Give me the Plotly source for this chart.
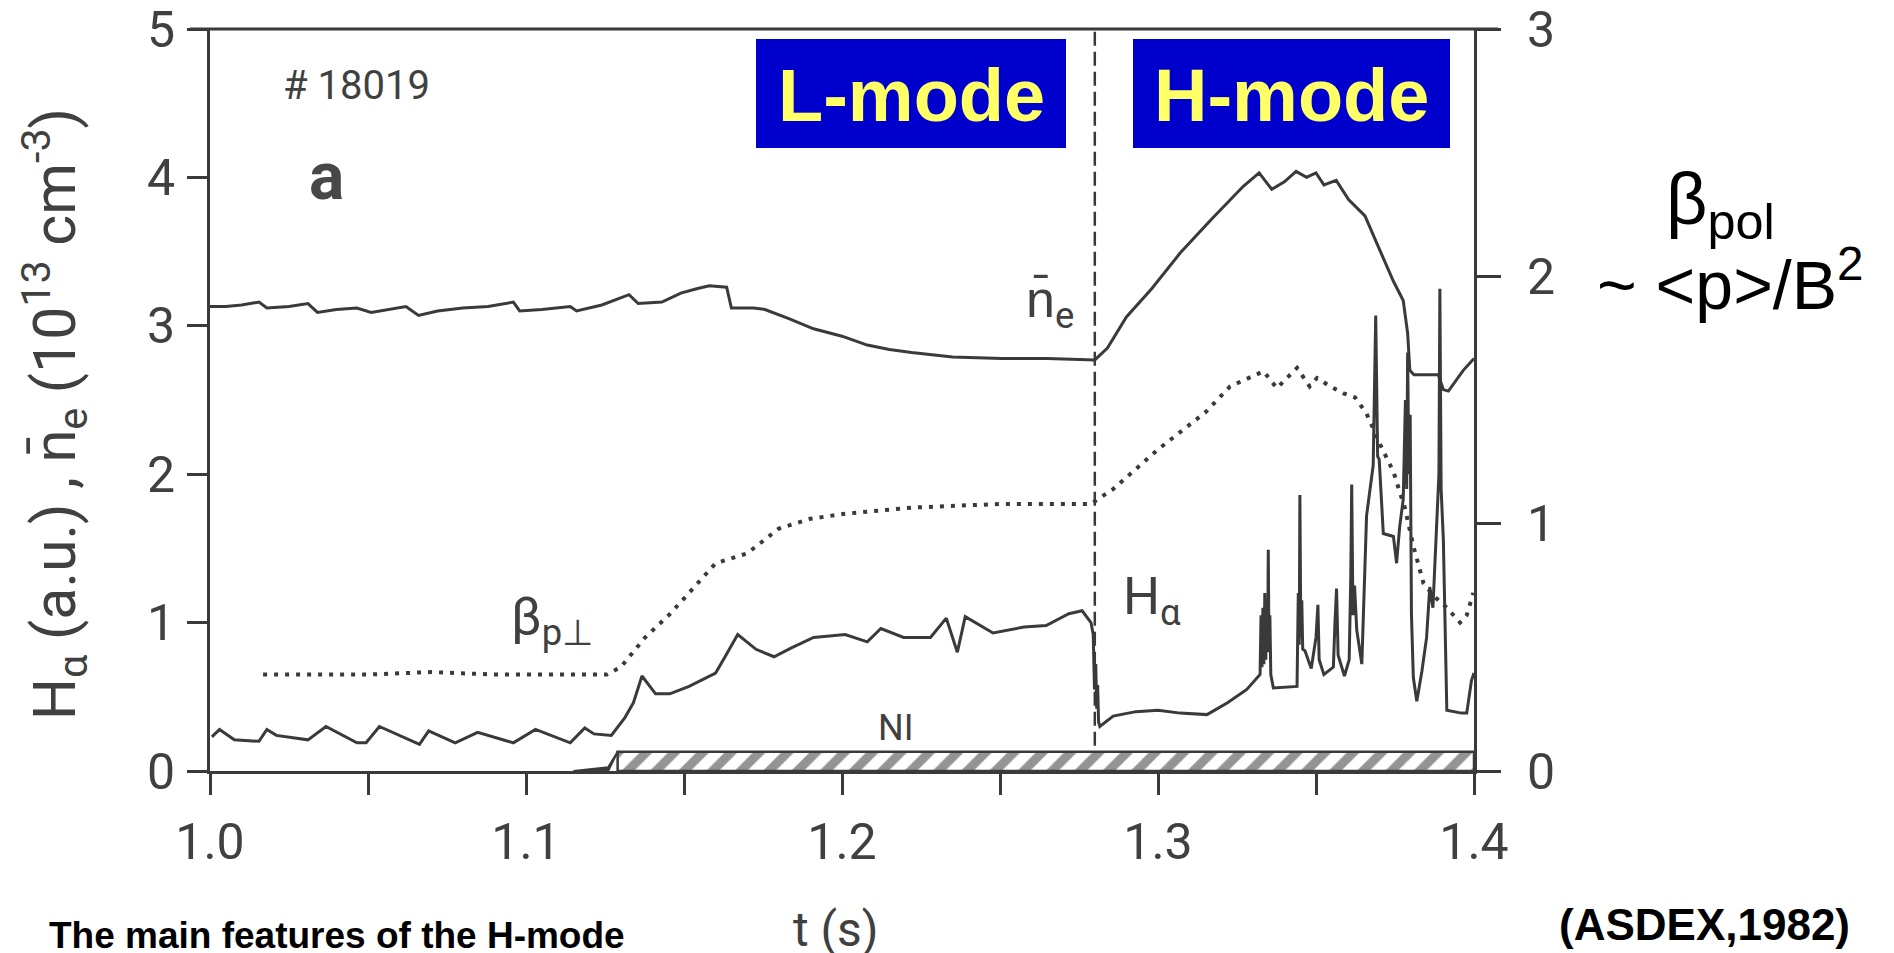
import plotly.graph_objects as go

# ---------------- data ----------------
# line-averaged density n_e (left axis, 1e13 cm^-3)
t_ne = [1.000, 1.005, 1.010, 1.0155, 1.018, 1.025, 1.031, 1.034, 1.040, 1.0465,
        1.051, 1.057, 1.062, 1.066, 1.072, 1.080, 1.088, 1.096, 1.098, 1.105,
        1.114, 1.116, 1.124, 1.1326, 1.1355, 1.143, 1.149, 1.154, 1.158, 1.1635,
        1.165, 1.172, 1.1756, 1.183, 1.191, 1.200, 1.208, 1.215, 1.222, 1.235,
        1.2506, 1.265, 1.280, 1.284, 1.290, 1.298, 1.307, 1.317, 1.327, 1.332,
        1.336, 1.340, 1.3437, 1.347, 1.350, 1.3525, 1.3564, 1.3603, 1.3655, 1.3706,
        1.3745, 1.3776, 1.3790, 1.3797, 1.3810, 1.3887, 1.3903, 1.3919, 1.3966, 1.4000]
ne = [3.13, 3.13, 3.14, 3.16, 3.12, 3.13, 3.15, 3.09, 3.11, 3.12,
      3.09, 3.11, 3.13, 3.07, 3.10, 3.12, 3.13, 3.16, 3.10, 3.11,
      3.13, 3.10, 3.14, 3.21, 3.15, 3.16, 3.22, 3.25, 3.27, 3.26,
      3.12, 3.12, 3.11, 3.05, 2.98, 2.93, 2.87, 2.84, 2.82, 2.79,
      2.78, 2.78, 2.77, 2.85, 3.06, 3.25, 3.49, 3.72, 3.94, 4.03,
      3.92, 3.97, 4.04, 4.00, 4.03, 3.95, 3.98, 3.85, 3.74, 3.49,
      3.30, 3.17, 2.95, 2.70, 2.67, 2.67, 2.57, 2.56, 2.70, 2.78]

# beta_p (dotted, right axis)
t_beta = [1.0168, 1.050, 1.070, 1.090, 1.1256, 1.130, 1.1377, 1.1452, 1.1516, 1.160,
          1.170, 1.180, 1.190, 1.201, 1.2223, 1.2506, 1.2788, 1.2858, 1.300, 1.315,
          1.3228, 1.3334, 1.3376, 1.344, 1.348, 1.3503, 1.3545, 1.3587, 1.3624, 1.366,
          1.3703, 1.3745, 1.3782, 1.3808, 1.384, 1.3871, 1.3914, 1.3956, 1.3977, 1.3998]
beta = [0.39, 0.39, 0.40, 0.39, 0.39, 0.42, 0.54, 0.63, 0.72, 0.84,
        0.88, 0.98, 1.02, 1.04, 1.065, 1.08, 1.08, 1.14, 1.30, 1.45,
        1.555, 1.616, 1.548, 1.63, 1.555, 1.589, 1.555, 1.527, 1.51, 1.445,
        1.32, 1.21, 1.06, 0.91, 0.76, 0.71, 0.66, 0.60, 0.63, 0.72]

# H-alpha (solid, left axis, a.u.)
t_ha = [1.0006, 1.003, 1.0077, 1.0155, 1.018, 1.021, 1.031, 1.0367, 1.0465, 1.0494,
        1.0536, 1.0663, 1.0692, 1.0776, 1.0847, 1.096, 1.103, 1.114, 1.1186, 1.1215,
        1.127, 1.1313, 1.134, 1.1367, 1.141, 1.1455, 1.1516, 1.160, 1.163, 1.167,
        1.1728, 1.1785, 1.184, 1.191, 1.201, 1.208, 1.2123, 1.2195, 1.228, 1.233,
        1.2365, 1.239, 1.2478, 1.2576, 1.2646, 1.2718, 1.276, 1.2788,
        1.2795, 1.2799, 1.2803, 1.2806, 1.2809, 1.2812, 1.2816,
        1.2858, 1.293, 1.300, 1.307, 1.3155, 1.322, 1.3281, 1.3323,
        1.3326, 1.3329, 1.3332, 1.3335, 1.3338, 1.3341, 1.3344, 1.3347, 1.3349, 1.3351, 1.3354, 1.3357,
        1.3365, 1.344,
        1.3444, 1.3447, 1.3449, 1.3452, 1.3455, 1.3458,
        1.3465, 1.3485,
        1.3500, 1.3506, 1.3510,
        1.3525, 1.3555,
        1.3560, 1.3565, 1.3570,
        1.359, 1.3605,
        1.3610, 1.3613, 1.3617, 1.3622,
        1.3629, 1.3645, 1.366, 1.3681, 1.3689, 1.3695, 1.370, 1.3713, 1.3745, 1.3755, 1.3765, 1.3776,
        1.3783, 1.3787, 1.3790, 1.3794, 1.3798, 1.3802, 1.3808, 1.3819, 1.3835, 1.3850,
        1.386, 1.3870, 1.388, 1.3889, 1.3892, 1.3896, 1.3903, 1.3914, 1.396, 1.3977, 1.3992, 1.400]
ha = [0.23, 0.28, 0.21, 0.20, 0.28, 0.24, 0.21, 0.30, 0.19, 0.19,
      0.30, 0.18, 0.27, 0.19, 0.26, 0.19, 0.28, 0.19, 0.29, 0.25,
      0.24, 0.36, 0.46, 0.64, 0.52, 0.52, 0.57, 0.66, 0.77, 0.92,
      0.82, 0.77, 0.83, 0.90, 0.92, 0.87, 0.96, 0.90, 0.90, 1.03,
      0.80, 1.04, 0.93, 0.97, 0.98, 1.06, 1.08, 1.00,
      0.92, 0.55, 0.72, 0.42, 0.58, 0.33, 0.30,
      0.37, 0.40, 0.41, 0.39, 0.38, 0.46, 0.55, 0.65,
      1.05, 0.70, 1.10, 0.72, 1.20, 0.75, 1.15, 0.80, 1.49, 0.85, 1.05, 0.65,
      0.56, 0.57,
      1.20, 0.85, 1.86, 0.90, 1.15, 0.82,
      0.81, 0.69,
      0.90, 1.12, 0.75,
      0.65, 0.70,
      1.00, 1.23, 0.78,
      0.64, 0.75,
      1.30, 1.93, 1.05, 1.25,
      0.95, 0.72, 1.72, 2.06, 3.07, 2.12, 2.10, 1.60, 1.58, 1.40, 1.65, 1.83,
      2.50, 1.90, 2.82, 2.00, 2.40, 1.06, 0.63, 0.47, 0.67, 0.90,
      1.24, 1.10, 1.54, 2.00, 3.25, 1.90, 1.56, 0.41, 0.39, 0.39, 0.61, 0.66]

# neutral injection (NI) pulse, left-axis units
ni_ramp_t = [1.115, 1.126, 1.129]
ni_ramp_h = [0.0, 0.025, 0.13]
ni_on_t = [1.129, 1.400]
ni_level = 0.13

t_LH = 1.28  # L-H transition

x_ticks = [1.0, 1.1, 1.2, 1.3, 1.4]
x_ticktext = ["1.0", "1.1", "1.2", "1.3", "1.4"]
x_minor_step = 0.05
y_ticks = [0, 1, 2, 3, 4, 5]
y2_ticks = [0, 1, 2, 3]

# ---------------- layout helpers ----------------
W, H = 1894, 953
PX_L, PX_R = 210, 1474      # plot frame (pixels)
PY_B, PY_T = 771, 29

INK = "#3a3a3a"
TXT = "#404040"
NARROW = "Roboto, Liberation Sans, sans-serif"
ARIAL = "Liberation Sans, Arial, sans-serif"


def tx(px):
    return 1.0 + (px - PX_L) / (PX_R - PX_L) * 0.4


def vy(py):
    return (PY_B - py) / (PY_B - PY_T) * 5.0


def paper_x(px):
    return px / W


def paper_y(py):
    return 1 - py / H


fig = go.Figure()

# NI hatched bar
fig.add_trace(go.Scatter(
    x=ni_ramp_t + ni_ramp_t[::-1][1:],
    y=ni_ramp_h + [0.0] * (len(ni_ramp_t) - 1),
    fill="toself", fillcolor=INK, mode="lines",
    line=dict(color=INK, width=2), hoverinfo="skip", showlegend=False))
fig.add_trace(go.Scatter(
    x=[ni_on_t[0], ni_on_t[1], ni_on_t[1], ni_on_t[0], ni_on_t[0]],
    y=[0.0, 0.0, ni_level, ni_level, 0.0],
    fill="toself", mode="lines",
    fillpattern=dict(shape="/", fgcolor="#2a2a2a", bgcolor="white", size=20, solidity=0.45),
    line=dict(color=INK, width=2.5), hoverinfo="skip", showlegend=False))

# density
fig.add_trace(go.Scatter(x=t_ne, y=ne, mode="lines",
                         line=dict(color=INK, width=3), showlegend=False))
# H-alpha
fig.add_trace(go.Scatter(x=t_ha, y=ha, mode="lines",
                         line=dict(color=INK, width=3), showlegend=False))
# beta (right axis)
fig.add_trace(go.Scatter(x=t_beta, y=beta, mode="lines", yaxis="y2",
                         line=dict(color=INK, width=4, dash="4px,7px"),
                         showlegend=False))

# dashed L-H transition line
fig.add_shape(type="line", xref="x", yref="y", x0=t_LH, x1=t_LH, y0=0.17, y1=5.0,
              line=dict(color=INK, width=2.5, dash="14px,6px"))

# top frame line (extends over the outer ticks at 5 and 3)
fig.add_shape(type="line", xref="paper", yref="paper",
              x0=paper_x(PX_L - 20), x1=paper_x(PX_R + 24), y0=paper_y(PY_T), y1=paper_y(PY_T),
              line=dict(color=INK, width=3))

# L-mode / H-mode boxes
for label, (bx0, bx1) in [("L-mode", (756, 1066)), ("H-mode", (1133, 1450))]:
    fig.add_shape(type="rect", xref="paper", yref="paper",
                  x0=paper_x(bx0), x1=paper_x(bx1), y0=paper_y(148), y1=paper_y(39),
                  fillcolor="#0000CC", line=dict(width=0), layer="above")
    fig.add_annotation(xref="paper", yref="paper", x=paper_x((bx0 + bx1) / 2), y=paper_y(96),
                       text="<b>%s</b>" % label, showarrow=False,
                       font=dict(family=ARIAL, size=74, color="#FFFF66"),
                       xanchor="center", yanchor="middle")

# in-plot labels
fig.add_annotation(x=tx(281), y=vy(85), text="# 18019", showarrow=False, xanchor="left",
                   yanchor="middle", font=dict(family=NARROW, size=40, color=TXT))
fig.add_annotation(x=tx(326), y=vy(176), text="<b>a</b>", showarrow=False,
                   xanchor="center", yanchor="middle",
                   font=dict(family=NARROW, size=66, color="#484848"))
fig.add_annotation(x=tx(1050), y=vy(303), text="n\u0304<sub>e</sub>", showarrow=False,
                   xanchor="center", yanchor="middle",
                   font=dict(family=NARROW, size=52, color=TXT))
fig.add_annotation(x=tx(552), y=vy(620), text="\u03b2<sub>p\u22a5</sub>", showarrow=False,
                   xanchor="center", yanchor="middle",
                   font=dict(family=NARROW, size=52, color=TXT))
fig.add_annotation(x=tx(1152), y=vy(600), text="H<sub>\u03b1</sub>", showarrow=False,
                   xanchor="center", yanchor="middle",
                   font=dict(family=NARROW, size=52, color=TXT))
fig.add_annotation(x=tx(895), y=vy(728), text="NI", showarrow=False,
                   xanchor="center", yanchor="middle",
                   font=dict(family=NARROW, size=36, color=TXT))

# outside labels
fig.add_annotation(xref="paper", yref="paper", x=paper_x(54), y=paper_y(414),
                   text="H<sub>\u03b1</sub> (a.u.) , n\u0304<sub>e</sub> (10<sup>13</sup> cm<sup>-3</sup>)",
                   textangle=-90, showarrow=False, xanchor="center", yanchor="middle",
                   font=dict(family=NARROW, size=59, color=TXT))
fig.add_annotation(xref="paper", yref="paper", x=paper_x(836), y=paper_y(929),
                   text="t (s)", showarrow=False, xanchor="center", yanchor="middle",
                   font=dict(family=NARROW, size=48, color=TXT))
fig.add_annotation(xref="paper", yref="paper", x=paper_x(1720), y=paper_y(205),
                   text="\u03b2<sub>pol</sub>", showarrow=False, xanchor="center", yanchor="middle",
                   font=dict(family=ARIAL, size=72, color="black"))
fig.add_annotation(xref="paper", yref="paper", x=paper_x(1730), y=paper_y(280),
                   text="~ &lt;p&gt;/B<sup>2</sup>", showarrow=False,
                   xanchor="center", yanchor="middle",
                   font=dict(family=ARIAL, size=68, color="black"))
fig.add_annotation(xref="paper", yref="paper", x=paper_x(1704), y=paper_y(924),
                   text="<b>(ASDEX,1982)</b>", showarrow=False,
                   xanchor="center", yanchor="middle",
                   font=dict(family=ARIAL, size=44, color="black"))
fig.add_annotation(xref="paper", yref="paper", x=paper_x(47), y=paper_y(913),
                   text="<b>The main features of the H-mode</b>", showarrow=False,
                   xanchor="left", yanchor="top",
                   font=dict(family=ARIAL, size=37, color="black"))

axis_common = dict(showgrid=False, zeroline=False, showline=True, linecolor=INK,
                   linewidth=3, ticks="outside", tickcolor=INK, tickwidth=3,
                   automargin=False, ticklabeloverflow="allow",
                   tickfont=dict(family=NARROW, size=50, color=TXT))

fig.update_layout(
    width=W, height=H,
    margin=dict(l=0, r=0, t=0, b=0, autoexpand=False),
    paper_bgcolor="white", plot_bgcolor="white",
    xaxis=dict(domain=[paper_x(PX_L), paper_x(PX_R)], range=[1.0, 1.4],
               tickvals=x_ticks, ticktext=x_ticktext, ticklen=21,
               minor=dict(dtick=x_minor_step, tick0=1.0, ticks="outside", ticklen=21,
                          tickwidth=3, tickcolor=INK),
               ticklabelstandoff=4, **axis_common),
    yaxis=dict(domain=[paper_y(PY_B), paper_y(PY_T)], range=[0, 5],
               tickvals=y_ticks, ticklen=20, ticklabelstandoff=2, **axis_common),
    yaxis2=dict(overlaying="y", side="right", anchor="x", range=[0, 3],
                tickvals=y2_ticks, ticklen=24, ticklabelstandoff=16, **axis_common),
    showlegend=False,
)

fig.write_html("out.html", config={"displayModeBar": False})
